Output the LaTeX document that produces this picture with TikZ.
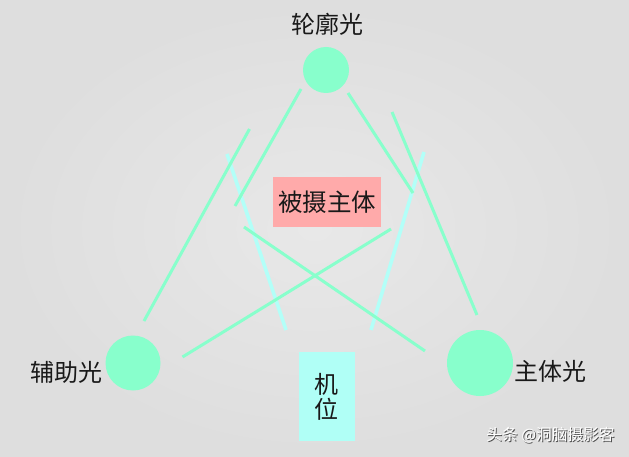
\documentclass[tikz,border=0pt]{standalone}
\usepackage{fontspec}
\setmainfont{Noto Sans CJK SC}
\begin{document}
\begin{tikzpicture}[x=1pt,y=-1pt,
  lamp/.style={circle,fill=lampgreen,draw=none,inner sep=0pt},
  lbl/.style={font=\fontsize{24}{26}\selectfont,text=black!90,inner sep=0pt},
  gline/.style={draw=linegreen,line width=3pt},
  cline/.style={draw=linecyan,line width=3.6pt}]
\definecolor{lampgreen}{HTML}{88FFCC}
\definecolor{linegreen}{HTML}{88FFCC}
\definecolor{linecyan}{HTML}{B3FFF8}
\definecolor{subjred}{HTML}{FFAAAA}
\definecolor{camcyan}{HTML}{B0FFF6}
\useasboundingbox (0,0) rectangle (629,457);
\shade[inner color=black!9,middle color=black!9.5,outer color=black!13] (0,0) rectangle (629,457);
% lamps
\node[lamp,minimum size=46pt] (rim) at (326,70) {};
\node[lamp,minimum size=55pt] (fill) at (133,363) {};
\node[lamp,minimum size=66pt] (key) at (480,363) {};
% labels
\node[lbl] (rimlbl) at (327,24) {轮廓光};
\node[lbl] (filllbl) at (66,372) {辅助光};
\node[lbl] (keylbl) at (550,371) {主体光};
% subject and camera
\node[fill=subjred,minimum width=108pt,minimum height=50pt,inner sep=0pt,font=\fontsize{24.5}{26}\selectfont,text=black!90] (subj) at (327,202) {被摄主体};
\node[fill=camcyan,minimum width=56pt,minimum height=89pt,inner sep=0pt,align=center,font=\fontsize{24}{25}\selectfont,text=black!90] (cam) at (326.5,396.5) {机\\位};
% coordinates of beam ends
\coordinate (a1) at (301,89); \coordinate (a2) at (235,206);
\coordinate (b1) at (348,93); \coordinate (b2) at (413,193);
\coordinate (c1) at (249.5,129); \coordinate (c2) at (144,321);
\coordinate (d1) at (392,112); \coordinate (d2) at (477,315);
\coordinate (e1) at (227,154); \coordinate (e2) at (286,330);
\coordinate (f1) at (424,152); \coordinate (f2) at (371,330);
\coordinate (g1) at (244,227); \coordinate (g2) at (425,351);
\coordinate (h1) at (391,229); \coordinate (h2) at (182.5,357);
% beams
\draw[cline] (e1) -- (e2);
\draw[cline] (f1) -- (f2);
\draw[gline] (a1) -- (a2);
\draw[gline] (b1) -- (b2);
\draw[gline] (c1) -- (c2);
\draw[gline] (d1) -- (d2);
\draw[gline] (g1) -- (g2);
\draw[gline] (h1) -- (h2);
% watermark
\node[font=\fontsize{15.7}{17}\selectfont,text=black!70,inner sep=0pt] (wms) at (551.5,436) {头条 @洞脑摄影客};
\node[font=\fontsize{15.7}{17}\selectfont,text=white,inner sep=0pt] (wm) at (550.5,435) {头条 @洞脑摄影客};
\end{tikzpicture}
\end{document}
